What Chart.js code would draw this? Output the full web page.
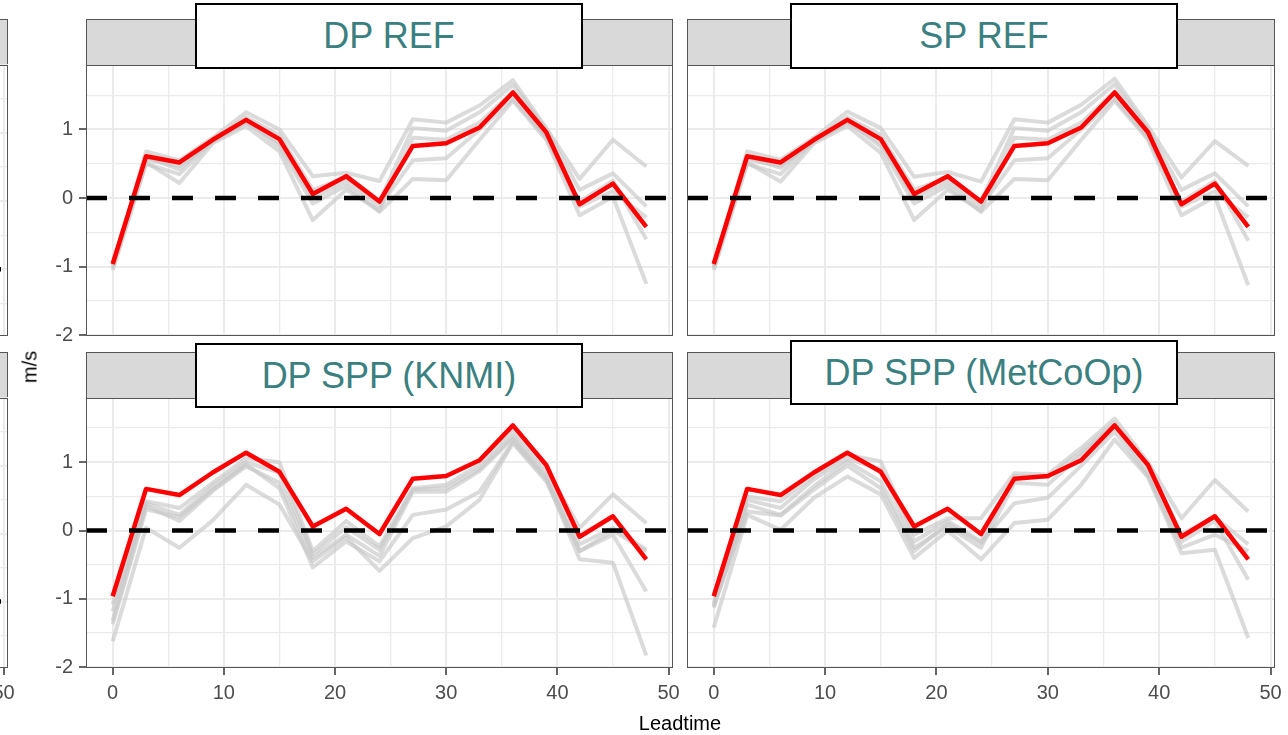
<!DOCTYPE html>
<html lang="en">
<head>
<meta charset="UTF-8">
<title>Leadtime</title>
<script src="https://cdn.jsdelivr.net/npm/chart.js"></script>
<style>
    body { margin: 0; width: 1288px; height: 735px; overflow: hidden; position: relative; background: #fff; font-family: "Liberation Sans", Arial, sans-serif; }
    .box { position: absolute; }
    .strip { position: absolute; background: #d9d9d9; border: 1.5px solid #555; box-sizing: border-box; }
    .frame { position: absolute; border: 1.5px solid #555; box-sizing: border-box; pointer-events: none; }
    .titulo { position: absolute; background: #fff; border: 2px solid #000; box-sizing: border-box; color: #3b8080;
              font-size: 36px; display: flex; align-items: center; justify-content: center; white-space: nowrap; }
    #ylab { position: absolute; left: 30px; top: 367px; transform: translate(-50%, -50%) rotate(-90deg); font-size: 20px; color: #000; }
    #xlab { position: absolute; left: 680px; top: 723px; transform: translate(-50%, -50%); font-size: 20px; color: #000; }
</style>
</head>
<body>

<div class="strip" style="left:-579px; top:19px; width:587px; height:47px"></div>
<div class="strip" style="left:-579px; top:352px; width:587px; height:47px"></div>
<div class="strip" style="left:86px; top:19px; width:587px; height:47px"></div>
<div class="strip" style="left:687px; top:19px; width:588px; height:47px"></div>
<div class="strip" style="left:86px; top:352px; width:587px; height:47px"></div>
<div class="strip" style="left:687px; top:352px; width:588px; height:47px"></div>

<div id="graficos"></div>

<div class="titulo" style="left:195px; top:3px; width:388px; height:66px">DP REF</div>
<div class="titulo" style="left:790px; top:3px; width:388px; height:66px">SP REF</div>
<div class="titulo" style="left:195px; top:343px; width:388px; height:65px">DP SPP (KNMI)</div>
<div class="titulo" style="left:790px; top:340px; width:388px; height:65px">DP SPP (MetCoOp)</div>

<div id="ylab">m/s</div>
<div id="xlab">Leadtime</div>

<script>
    // leadtimes (h)
    var leadtime = [0, 3, 6, 9, 12, 15, 18, 21, 24, 27, 30, 33, 36, 39, 42, 45, 48];

    // red line, same in every panel
    var linhaVermelha = [-0.96, 0.61, 0.52, 0.85, 1.14, 0.86, 0.06, 0.32, -0.05, 0.76, 0.80, 1.03, 1.54, 0.96, -0.09, 0.21, -0.42];

    // grey members per panel
    var cinzaDpRef = [
        [-1.00, 0.68, 0.55, 0.88, 1.25, 1.00, 0.32, 0.37, 0.25, 1.15, 1.10, 1.35, 1.72, 1.02, 0.28, 0.85, 0.46],
        [-0.98, 0.60, 0.42, 0.85, 1.18, 0.92, 0.12, 0.30, -0.05, 1.02, 0.98, 1.25, 1.65, 1.00, 0.12, 0.36, -0.12],
        [-1.02, 0.52, 0.22, 0.80, 1.05, 0.68, -0.32, 0.12, -0.18, 0.88, 0.85, 1.10, 1.55, 0.90, -0.12, 0.10, -0.28],
        [-0.96, 0.56, 0.47, 0.82, 1.10, 0.80, 0.00, 0.24, -0.12, 0.55, 0.58, 1.00, 1.45, 0.88, -0.05, 0.25, -0.60],
        [-1.05, 0.50, 0.35, 0.84, 1.12, 0.75, -0.08, 0.18, -0.20, 0.28, 0.26, 0.85, 1.42, 0.85, -0.25, 0.02, -1.25]
    ];
    var cinzaSpRef = [
        [-1.00, 0.68, 0.56, 0.88, 1.26, 1.02, 0.31, 0.38, 0.24, 1.15, 1.10, 1.36, 1.74, 1.05, 0.30, 0.83, 0.47],
        [-0.98, 0.60, 0.44, 0.85, 1.18, 0.92, 0.12, 0.30, -0.05, 1.02, 0.98, 1.25, 1.66, 1.00, 0.12, 0.36, -0.12],
        [-1.02, 0.52, 0.24, 0.80, 1.05, 0.66, -0.32, 0.12, -0.18, 0.88, 0.85, 1.10, 1.55, 0.90, -0.12, 0.10, -0.28],
        [-0.96, 0.56, 0.47, 0.82, 1.10, 0.80, 0.00, 0.24, -0.12, 0.55, 0.58, 1.00, 1.45, 0.88, -0.05, 0.25, -0.62],
        [-1.05, 0.50, 0.35, 0.84, 1.12, 0.75, -0.08, 0.18, -0.20, 0.28, 0.26, 0.85, 1.42, 0.85, -0.25, 0.02, -1.27]
    ];
    var cinzaKnmi = [
        [-1.08, 0.43, 0.33, 0.70, 1.06, 1.00, -0.30, 0.14, -0.23, 0.62, 0.67, 0.96, 1.45, 0.90, 0.04, 0.53, 0.11],
        [-1.18, 0.40, 0.23, 0.65, 1.00, 0.85, -0.35, 0.05, -0.28, 0.60, 0.62, 0.90, 1.38, 0.82, -0.20, 0.04, -0.28],
        [-1.32, 0.36, 0.14, 0.58, 0.94, 0.70, -0.40, -0.06, -0.37, 0.57, 0.57, 0.87, 1.35, 0.78, -0.30, -0.06, -0.89],
        [-1.37, 0.31, 0.20, 0.60, 0.97, 0.62, -0.54, -0.16, -0.45, 0.23, 0.31, 0.57, 1.30, 0.75, -0.42, -0.47, -1.83],
        [-1.62, 0.04, -0.25, 0.15, 0.67, 0.38, -0.45, -0.10, -0.59, -0.11, 0.06, 0.45, 1.28, 0.72, -0.30, 0.00, -0.30]
    ];
    var cinzaMetCoOp = [
        [-1.06, 0.50, 0.43, 0.80, 1.11, 1.01, -0.06, 0.18, 0.18, 0.84, 0.82, 1.21, 1.64, 1.00, 0.18, 0.74, 0.28],
        [-1.10, 0.45, 0.33, 0.75, 1.05, 0.90, -0.16, 0.14, -0.16, 0.80, 0.78, 1.15, 1.58, 0.95, -0.05, 0.20, -0.20],
        [-1.13, 0.38, 0.23, 0.65, 1.01, 0.72, -0.25, 0.06, -0.25, 0.70, 0.67, 1.11, 1.55, 0.85, -0.16, 0.14, -0.72],
        [-1.42, 0.23, 0.01, 0.48, 0.79, 0.53, -0.40, 0.00, -0.42, 0.11, 0.16, 0.67, 1.33, 0.78, -0.33, -0.28, -1.57],
        [-1.10, 0.28, 0.22, 0.60, 0.95, 0.62, -0.30, 0.10, -0.18, 0.40, 0.48, 0.95, 1.45, 0.80, -0.25, -0.06, -0.30]
    ];

    // axis limits
    var xMin = -2.4, xMax = 50.4;
    var yMin = -2.01, yMax = 1.94;
    var yMinVizinho = -0.98, yMaxVizinho = 3;

    var fonte = { family: '"Liberation Sans", Arial, sans-serif', size: 20 };
    var folga = 24; // room above / below the plot for tick label overflow

    function pontos(vals) {
        return leadtime.map(function (t, i) { return { x: t, y: vals[i] }; });
    }

    function criaGrafico(p) {
        var baixo = p.eixoX ? 45 : folga;
        var wrap = document.createElement('div');
        wrap.className = 'box';
        wrap.style.left = (p.x - 56) + 'px';
        wrap.style.top = (p.y - folga) + 'px';
        wrap.style.width = (p.w + 56 + 20) + 'px';
        wrap.style.height = (p.h + folga + baixo) + 'px';
        var cv = document.createElement('canvas');
        wrap.appendChild(cv);
        graficos.appendChild(wrap);

        var frame = document.createElement('div');
        frame.className = 'frame';
        frame.style.left = p.x + 'px';
        frame.style.top = p.y + 'px';
        frame.style.width = p.w + 'px';
        frame.style.height = p.h + 'px';
        graficos.appendChild(frame);

        var datasets = [{
            data: [{ x: xMin, y: 0 }, { x: xMax, y: 0 }],
            borderColor: '#000', borderWidth: 4.5, borderDash: [21, 22], order: 0
        }];
        if (p.vermelha) {
            datasets.push({ data: pontos(p.vermelha), borderColor: '#ff0000', borderWidth: 4.5, order: 1 });
        }
        p.cinzas.forEach(function (g) {
            datasets.push({ data: pontos(g), borderColor: 'rgba(200,200,200,0.65)', borderWidth: 4, order: 2 });
        });

        new Chart(cv, {
            type: 'line',
            data: { datasets: datasets },
            options: {
                responsive: true, maintainAspectRatio: false, animation: false, devicePixelRatio: 1,
                layout: { padding: { left: 0, right: 20, top: folga, bottom: p.eixoX ? 0 : folga } },
                plugins: { legend: { display: false }, tooltip: { enabled: false } },
                elements: { point: { radius: 0 }, line: { tension: 0, borderJoinStyle: 'round' } },
                scales: {
                    x: {
                        type: 'linear', min: xMin, max: xMax,
                        border: { display: false },
                        grid: {
                            color: '#ebebeb',
                            lineWidth: function (c) { return c.tick && c.tick.value % 10 === 0 ? 2 : 1.3; },
                            drawTicks: p.eixoX, tickLength: 7, tickWidth: 1.5,
                            tickColor: function (c) { return c.tick && c.tick.value % 10 === 0 ? '#333' : 'rgba(0,0,0,0)'; }
                        },
                        ticks: {
                            display: p.eixoX, stepSize: 5, includeBounds: false, autoSkip: false, maxRotation: 0,
                            padding: 6, color: '#4d4d4d', font: fonte,
                            callback: function (v) { return v % 10 === 0 ? v : ''; }
                        },
                        afterFit: function (s) { s.height = p.eixoX ? 45 : 0; }
                    },
                    y: {
                        min: p.yMin, max: p.yMax,
                        border: { display: false },
                        grid: {
                            color: '#ebebeb',
                            lineWidth: function (c) { return c.tick && Number.isInteger(c.tick.value) ? 2 : 1.3; },
                            drawTicks: p.eixoY, tickLength: 7, tickWidth: 1.5,
                            tickColor: function (c) { return c.tick && Number.isInteger(c.tick.value) ? '#333' : 'rgba(0,0,0,0)'; }
                        },
                        ticks: {
                            display: p.eixoY, stepSize: 0.5, includeBounds: false, autoSkip: false,
                            padding: 6, color: '#4d4d4d', font: fonte,
                            callback: function (v) { return Number.isInteger(v) ? v : ''; }
                        },
                        afterFit: function (s) { s.width = 56; }
                    }
                }
            }
        });
    }

    // panel cut at the left edge (only its right border shows)
    criaGrafico({ x: -579, y: 65, w: 587, h: 271, cinzas: [], yMin: yMinVizinho, yMax: yMaxVizinho, eixoX: false, eixoY: false });
    criaGrafico({ x: -579, y: 398, w: 587, h: 270, cinzas: [], yMin: yMinVizinho, yMax: yMaxVizinho, eixoX: true, eixoY: false });

    criaGrafico({ x: 86, y: 65, w: 587, h: 271, vermelha: linhaVermelha, cinzas: cinzaDpRef, yMin: yMin, yMax: yMax, eixoX: false, eixoY: true });
    criaGrafico({ x: 687, y: 65, w: 588, h: 271, vermelha: linhaVermelha, cinzas: cinzaSpRef, yMin: yMin, yMax: yMax, eixoX: false, eixoY: false });
    criaGrafico({ x: 86, y: 398, w: 587, h: 270, vermelha: linhaVermelha, cinzas: cinzaKnmi, yMin: yMin, yMax: yMax, eixoX: true, eixoY: true });
    criaGrafico({ x: 687, y: 398, w: 588, h: 270, vermelha: linhaVermelha, cinzas: cinzaMetCoOp, yMin: yMin, yMax: yMax, eixoX: true, eixoY: false });
</script>
</body>
</html>
